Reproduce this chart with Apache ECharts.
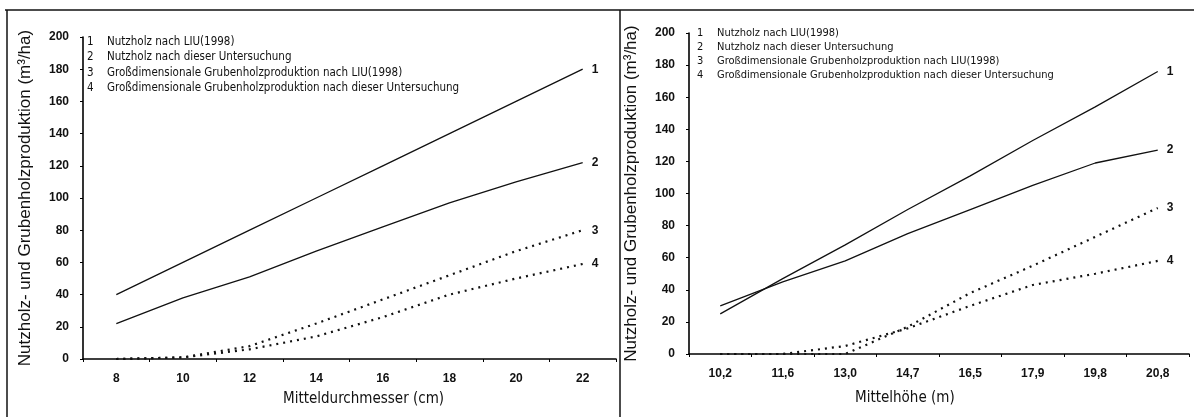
<!DOCTYPE html>
<html>
<head>
<meta charset="utf-8">
<script src="https://cdn.jsdelivr.net/npm/echarts@6/dist/echarts.min.js"></script>
<style>
html,body{margin:0;padding:0;background:#fff;}
#c{width:1194px;height:417px;}
</style>
</head>
<body>
<div id="c"></div>
<script>
// ---- data ----
const leftCats = ['8','10','12','14','16','18','20','22'];
const rightCats = ['10,2','11,6','13,0','14,7','16,5','17,9','19,8','20,8'];
const leftS1 = [40,60,80,100,120,140,160,180];
const leftS2 = [22,38,51,67,82,97,110,122];
const leftS3 = [0,1,8,22,37,52,67,80];
const leftS4 = [0,1,6,14,26,40,50,59];
const rightS1 = [25,47,68,90,111,133,154,176];
const rightS2 = [30,45,58,75,90,105,119,127];
const rightS3 = [0,0,0,17,38,55,73,91];
const rightS4 = [0,0,5,16,30,43,50,58];
const seriesNumbers = ['1','2','3','4'];
const legendLabels = [
  'Nutzholz nach LIU(1998)',
  'Nutzholz nach dieser Untersuchung',
  'Großdimensionale Grubenholzproduktion nach LIU(1998)',
  'Großdimensionale Grubenholzproduktion nach dieser Untersuchung'
];
const yTitle = 'Nutzholz- und Grubenholzproduktion (m³/ha)';
const xTitleLeft = 'Mitteldurchmesser (cm)';
const xTitleRight = 'Mittelhöhe (m)';
const yMin = 0, yMax = 200, yStep = 20;

const narrow = "'Liberation Sans Narrow','DejaVu Sans Condensed','Arial Narrow',sans-serif";
const sans = "'Liberation Sans',Arial,sans-serif";

const chart = echarts.init(document.getElementById('c'), null, {renderer:'canvas'});

function xAxis(idx, cats){
  return {
    gridIndex: idx, type:'category', data: cats, boundaryGap:true,
    axisLine:{show:true, onZero:false, lineStyle:{color:'#000', width:1.6}},
    axisTick:{show:true, length:3, inside:false, lineStyle:{color:'#000', width:1}},
    axisLabel:{color:'#111', fontFamily:sans, fontWeight:'bold', fontSize:12, margin:14},
    splitLine:{show:false}
  };
}
function yAxis(idx){
  return {
    gridIndex: idx, type:'value', min:yMin, max:yMax, interval:yStep,
    axisLine:{show:true, lineStyle:{color:'#000', width:1.6}},
    axisTick:{show:true, length:3, lineStyle:{color:'#000', width:1}},
    axisLabel:{color:'#111', fontFamily:sans, fontWeight:'bold', fontSize:12, margin:14},
    splitLine:{show:false},
    name: yTitle, nameLocation:'middle', nameGap:49,
    nameTextStyle:{color:'#111', fontFamily:sans, fontSize:17}
  };
}
function line(idx, data, num, dotted){
  return {
    type:'line', xAxisIndex:idx, yAxisIndex:idx, data:data, name:num,
    symbol:'none', silent:true, z: dotted?3:4,
    lineStyle: dotted ? {color:'#111', width:2.2, type:[2,5]} : {color:'#111', width:1.3},
    endLabel:{show:true, formatter: num, color:'#111', fontFamily:sans, fontWeight:'bold', fontSize:12, distance:9}
  };
}

const leftData = [leftS1,leftS2,leftS3,leftS4];
const rightData = [rightS1,rightS2,rightS3,rightS4];
const series = [];
leftData.forEach((d,i)=>series.push(line(0,d,seriesNumbers[i], i>=2)));
rightData.forEach((d,i)=>series.push(line(1,d,seriesNumbers[i], i>=2)));

const graphic = [];
function legendBlock(x0, y0, step, fs){
  legendLabels.forEach((t,i)=>{
    graphic.push({type:'text', left:x0, top:y0+i*step, silent:true,
      style:{text:seriesNumbers[i], fill:'#111', font:fs+'px '+narrow}});
    graphic.push({type:'text', left:x0+20, top:y0+i*step, silent:true,
      style:{text:t, fill:'#111', font:fs+'px '+narrow}});
  });
}
legendBlock(87, 36, 15.5, 11.5);
legendBlock(697, 28, 14, 11);
graphic.push({type:'text', left:283, top:392, silent:true, style:{text:xTitleLeft, fill:'#111', font:'15px '+narrow}});
graphic.push({type:'text', left:855, top:391, silent:true, style:{text:xTitleRight, fill:'#111', font:'15px '+narrow}});
// frame
const fr = {stroke:'#111', lineWidth:1.5};
graphic.push({type:'line', silent:true, shape:{x1:5,y1:10,x2:1194,y2:10}, style:fr});
graphic.push({type:'line', silent:true, shape:{x1:7,y1:10,x2:7,y2:417}, style:fr});
graphic.push({type:'line', silent:true, shape:{x1:620,y1:10,x2:620,y2:417}, style:fr});

chart.setOption({
  animation:false,
  backgroundColor:'#fff',
  grid:[
    {left:83, top:37, width:533, height:322},
    {left:689, top:33, width:500, height:321}
  ],
  xAxis:[xAxis(0,leftCats), xAxis(1,rightCats)],
  yAxis:[yAxis(0), yAxis(1)],
  series: series,
  graphic: graphic
});
</script>
</body>
</html>
